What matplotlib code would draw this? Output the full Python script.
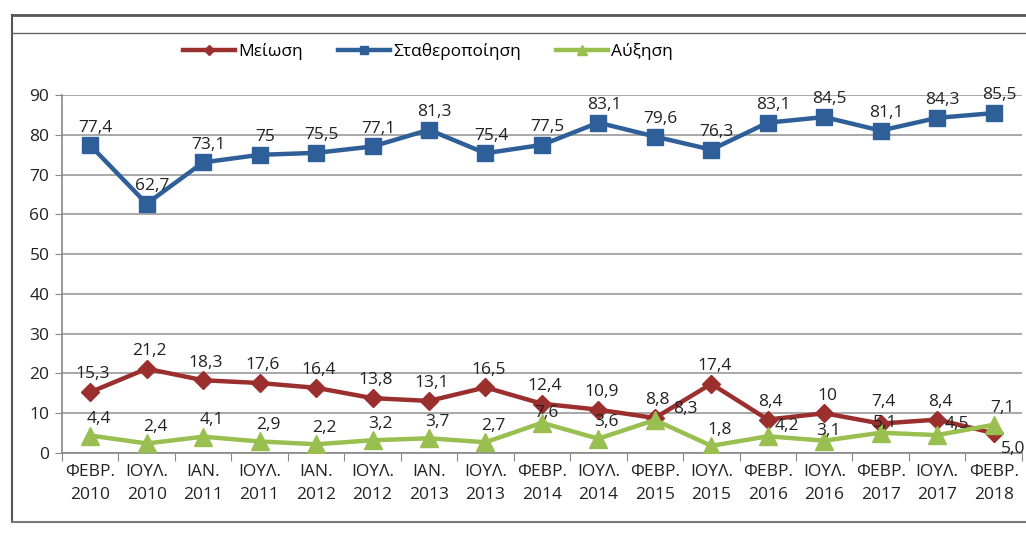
import matplotlib.pyplot as plt
from matplotlib.lines import Line2D

plt.rcParams['font.family'] = ['Open Sans', 'DejaVu Sans']

periods = ["ΦΕΒΡ.\n2010", "ΙΟΥΛ.\n2010", "ΙΑΝ.\n2011", "ΙΟΥΛ.\n2011", "ΙΑΝ.\n2012",
           "ΙΟΥΛ.\n2012", "ΙΑΝ.\n2013", "ΙΟΥΛ.\n2013", "ΦΕΒΡ.\n2014", "ΙΟΥΛ.\n2014",
           "ΦΕΒΡ.\n2015", "ΙΟΥΛ.\n2015", "ΦΕΒΡ.\n2016", "ΙΟΥΛ.\n2016", "ΦΕΒΡ.\n2017",
           "ΙΟΥΛ.\n2017", "ΦΕΒΡ.\n2018"]
meiosi = [15.3, 21.2, 18.3, 17.6, 16.4, 13.8, 13.1, 16.5, 12.4, 10.9, 8.8, 17.4, 8.4, 10, 7.4, 8.4, 5.0]
stathero = [77.4, 62.7, 73.1, 75, 75.5, 77.1, 81.3, 75.4, 77.5, 83.1, 79.6, 76.3, 83.1, 84.5, 81.1, 84.3, 85.5]
afxisi = [4.4, 2.4, 4.1, 2.9, 2.2, 3.2, 3.7, 2.7, 7.6, 3.6, 8.3, 1.8, 4.2, 3.1, 5.1, 4.5, 7.1]
red_text = ["15,3", "21,2", "18,3", "17,6", "16,4", "13,8", "13,1", "16,5", "12,4", "10,9",
            "8,8", "17,4", "8,4", "10", "7,4", "8,4", "5,0"]
blue_text = ["77,4", "62,7", "73,1", "75", "75,5", "77,1", "81,3", "75,4", "77,5", "83,1",
             "79,6", "76,3", "83,1", "84,5", "81,1", "84,3", "85,5"]
green_text = ["4,4", "2,4", "4,1", "2,9", "2,2", "3,2", "3,7", "2,7", "7,6", "3,6",
              "8,3", "1,8", "4,2", "3,1", "5,1", "4,5", "7,1"]

RED = "#9b2f2d"
BLUE = "#2f5f99"
GREEN = "#98bf4f"

fig = plt.figure(figsize=(10.26, 5.34), dpi=100)
ax = fig.add_axes([0.0604, 0.1517, 0.9356, 0.670])

x = list(range(len(periods)))
ax.plot(x, meiosi, color=RED, lw=3.2, marker="D", ms=9.5, label="Μείωση", zorder=3)
ax.plot(x, stathero, color=BLUE, lw=3.2, marker="s", ms=11.5, label="Σταθεροποίηση", zorder=3)
ax.plot(x, afxisi, color=GREEN, lw=3.2, marker="^", ms=12.5, label="Αύξηση", zorder=4)

fs = 12.5
for i in x:
    ax.annotate(blue_text[i], (i, stathero[i]), xytext=(4, 7), textcoords="offset points",
                ha="center", va="bottom", fontsize=fs, color="#222222", zorder=6)
    dx, dy, va = 2, 7, "bottom"
    if i == 16:
        dx, dy, va = 14, -6, "top"
    elif i == 14:
        dy = 10
    ax.annotate(red_text[i], (i, meiosi[i]), xytext=(dx, dy), textcoords="offset points",
                ha="center", va=va, fontsize=fs, color="#222222", zorder=6)
    dx, dy = 6, 6
    if i == 10:
        dx, dy = 22, 2
    elif i in (12, 15):
        dx, dy = 14, 2
    elif i in (8, 13, 14):
        dx, dy = 3, 1
    ax.annotate(green_text[i], (i, afxisi[i]), xytext=(dx, dy), textcoords="offset points",
                ha="center", va="bottom", fontsize=fs, color="#222222", zorder=6)

ax.set_xlim(-0.5, len(periods) - 0.5)
ax.set_ylim(0, 90)
ax.set_yticks(range(0, 91, 10))
ax.set_xticks([i - 0.5 for i in range(len(periods) + 1)])
ax.set_xticklabels([])
ax.set_xticks(x, minor=True)
ax.set_xticklabels(periods, minor=True, fontsize=fs, linespacing=1.55)
ax.tick_params(axis="x", which="major", length=6, color="#888888", direction="out")
ax.tick_params(axis="x", which="minor", length=0, pad=8, colors="#222222")
ax.tick_params(axis="y", length=5, color="#888888", labelsize=fs, colors="#222222", pad=4)
ax.yaxis.grid(True, color="#9a9a9a", lw=1.2)
ax.set_axisbelow(True)
for s in ("top", "right"):
    ax.spines[s].set_visible(False)
for s in ("left", "bottom"):
    ax.spines[s].set_color("#888888")
    ax.spines[s].set_linewidth(1.2)

fig.legend(loc="center", bbox_to_anchor=(428 / 1026, 1 - 52 / 534), ncol=3, frameon=False,
           fontsize=fs, handlelength=3.0, columnspacing=2.0, handletextpad=0.2,
           markerscale=0.55)

# chart frame
W, H = 1026, 534
fx = lambda p: p / W
fy = lambda p: 1 - p / H
fig.add_artist(Line2D([fx(12), 1], [fy(15), fy(15)], color="#555555", lw=2))
fig.add_artist(Line2D([fx(12), fx(12)], [fy(15), fy(522)], color="#555555", lw=1.5))
fig.add_artist(Line2D([fx(12), 1], [fy(33), fy(33)], color="#666666", lw=1))
fig.add_artist(Line2D([fx(12), 1], [fy(522), fy(522)], color="#777777", lw=1.5))

fig.savefig("out.png", dpi=100)
